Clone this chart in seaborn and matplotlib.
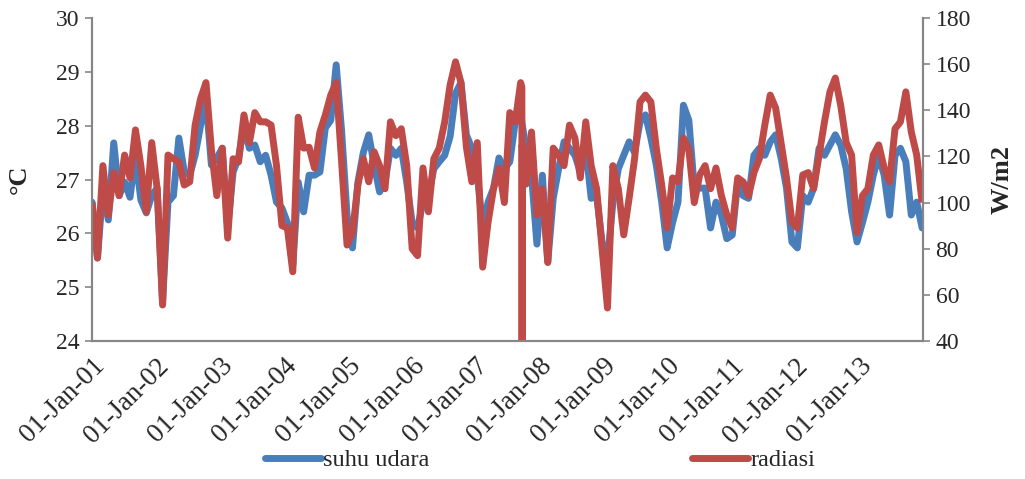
import pandas as pd
import numpy as np
import seaborn as sns
import matplotlib.pyplot as plt
import matplotlib.dates as mdates

# data, sampled roughly every 31 days from 01-Jan-2001
start = "2001-01-01"
step_days = 31

suhu_udara = [
    26.58, 25.54, 26.84, 26.25, 27.68, 26.70, 26.95, 26.67, 27.45, 26.62, 26.38, 26.70,
    26.84, 24.72, 26.58, 26.70, 27.77, 27.14, 27.08, 27.45, 28.00, 28.50, 27.27, 27.40,
    27.58, 26.10, 27.14, 27.40, 28.00, 27.58, 27.64, 27.33, 27.45, 27.08, 26.58, 26.47,
    26.20, 25.40, 26.95, 26.40, 27.08, 27.08, 27.14, 27.96, 28.10, 29.13, 27.90, 26.34,
    25.73, 26.95, 27.50, 27.83, 27.27, 26.77, 26.95, 27.58, 27.45, 27.58, 26.95, 26.20,
    26.10, 26.58, 26.70, 27.20, 27.33, 27.45, 27.80, 28.60, 28.80, 27.83, 27.58, 27.08,
    26.10, 26.58, 26.84, 27.40, 27.20, 27.33, 28.07, 28.20, 27.58, 27.08, 25.80, 27.08,
    25.47, 26.65, 27.20, 27.70, 27.58, 27.45, 27.14, 27.58, 26.65, 26.70, 25.84, 25.47,
    26.58, 27.20, 27.45, 27.70, 27.50, 28.07, 28.20, 27.77, 27.27, 26.58, 25.73, 26.20,
    26.58, 28.38, 28.10, 26.84, 26.84, 26.84, 26.10, 26.58, 26.34, 25.90, 25.97, 26.95,
    26.70, 26.65, 27.45, 27.58, 27.45, 27.70, 27.83, 27.40, 26.84, 25.84, 25.73, 26.70,
    26.58, 26.84, 27.58, 27.45, 27.64, 27.83, 27.64, 27.20, 26.40, 25.84, 26.20, 26.58,
    27.08, 27.45, 27.08, 26.34, 27.45, 27.58, 27.33, 26.34, 26.58, 26.10,
]

radiasi = [
    100.0, 76.0, 116.0, 94.6, 113.0, 103.0, 120.6, 110.7, 131.5, 116.0, 96.0, 126.0,
    106.0, 55.6, 120.6, 119.0, 117.6, 107.6, 109.0, 133.6, 145.0, 152.0, 122.8, 103.0,
    123.6, 84.6, 119.0, 117.6, 138.0, 126.0, 139.0, 135.0, 135.0, 133.6, 116.0, 90.0,
    89.0, 70.0, 137.0, 123.6, 124.0, 115.0, 130.6, 138.0, 146.6, 152.0, 117.6, 81.6,
    87.0, 107.6, 119.0, 109.0, 122.0, 116.0, 106.0, 135.0, 129.0, 132.0, 116.0, 80.0,
    77.0, 115.0, 96.0, 119.0, 123.6, 135.0, 151.0, 161.0, 152.0, 124.0, 109.0, 126.0,
    72.0, 91.6, 106.0, 115.0, 100.0, 139.0, 135.0, 152.0, 108.0, 130.6, 94.6, 106.0,
    74.0, 123.6, 120.6, 116.0, 133.6, 128.0, 110.7, 135.0, 116.0, 106.0, 80.0, 54.3,
    116.0, 106.0, 86.0, 102.0, 119.0, 143.6, 146.6, 143.6, 123.6, 107.6, 89.0, 110.7,
    109.0, 128.0, 123.0, 100.0, 112.0, 116.0, 106.0, 115.0, 103.0, 94.6, 89.0, 110.7,
    109.0, 103.0, 113.0, 119.0, 133.6, 146.6, 141.0, 126.0, 110.7, 91.6, 89.0, 112.0,
    113.0, 106.0, 120.6, 135.0, 148.0, 154.0, 142.0, 126.0, 120.6, 87.0, 103.0, 106.0,
    120.6, 125.0, 115.0, 109.0, 132.0, 135.0, 148.0, 130.6, 120.6, 100.0,
]

# single bad reading in the radiation record (drops below the axis)
spike_dates = ["2007-09-23", "2007-09-24", "2007-09-25"]
spike_vals = [150.0, 0.0, 125.0]

tanggal = pd.date_range(start, periods=len(suhu_udara), freq=f"{step_days}D")
df_suhu = pd.DataFrame({"tanggal": tanggal, "suhu": suhu_udara})
df_rad = pd.DataFrame({"tanggal": tanggal, "radiasi": radiasi})
df_rad = pd.concat([df_rad, pd.DataFrame({"tanggal": pd.to_datetime(spike_dates),
                                          "radiasi": spike_vals})])
df_rad = df_rad.sort_values("tanggal").reset_index(drop=True)

biru = "#4A7EBB"
merah = "#BE4B48"
abu = "#868686"

sns.set_style("white")
plt.rcParams["font.family"] = ["Liberation Serif", "DejaVu Serif"]

fig = plt.figure(figsize=(10.25, 4.79), dpi=100)
ax = fig.add_axes([0.0898, 0.2881, 0.8107, 0.6743])
ax2 = ax.twinx()

lebar = 5.0
sns.lineplot(data=df_suhu, x="tanggal", y="suhu", ax=ax, color=biru, lw=lebar,
             solid_joinstyle="round", solid_capstyle="round")
sns.lineplot(data=df_rad, x="tanggal", y="radiasi", ax=ax2, color=merah, lw=lebar,
             solid_joinstyle="round", solid_capstyle="butt")

ax.set_xlim(pd.Timestamp("2001-01-01"), pd.Timestamp("2014-01-01"))
ax.set_ylim(24, 30)
ax2.set_ylim(40, 180)
ax.set_yticks(np.arange(24, 31, 1))
ax2.set_yticks(np.arange(40, 181, 20))

tahun = pd.date_range("2001-01-01", "2013-01-01", freq="YS")
ax.set_xticks(tahun)
ax.xaxis.set_major_formatter(mdates.DateFormatter("%d-%b-%y"))

for a in (ax, ax2):
    a.tick_params(direction="out", length=5, width=1.2, color=abu, labelsize=17, pad=4)
    a.spines["top"].set_visible(False)
    for s in ("left", "right", "bottom"):
        a.spines[s].set_color(abu)
        a.spines[s].set_linewidth(1.5)
    a.grid(False)

for lbl in ax.get_xticklabels():
    lbl.set_rotation(45)
    lbl.set_ha("right")
    lbl.set_rotation_mode("anchor")
    lbl.set_fontsize(19.5)

ax.set_xlabel("")
ax.set_ylabel("°C", fontsize=19, fontweight="bold", labelpad=18)
ax2.set_ylabel("W/m2", fontsize=19, fontweight="bold", labelpad=14)

h1 = plt.Line2D([], [], color=biru, lw=lebar)
h2 = plt.Line2D([], [], color=merah, lw=lebar)
fig.legend([h1, h2], ["suhu udara", "radiasi"], loc="lower center",
           bbox_to_anchor=(0.527, -0.03), ncol=2, frameon=False, fontsize=17.5,
           columnspacing=10.8, handlelength=2.3, handletextpad=0.1)

fig.savefig("out.png", dpi=100)
